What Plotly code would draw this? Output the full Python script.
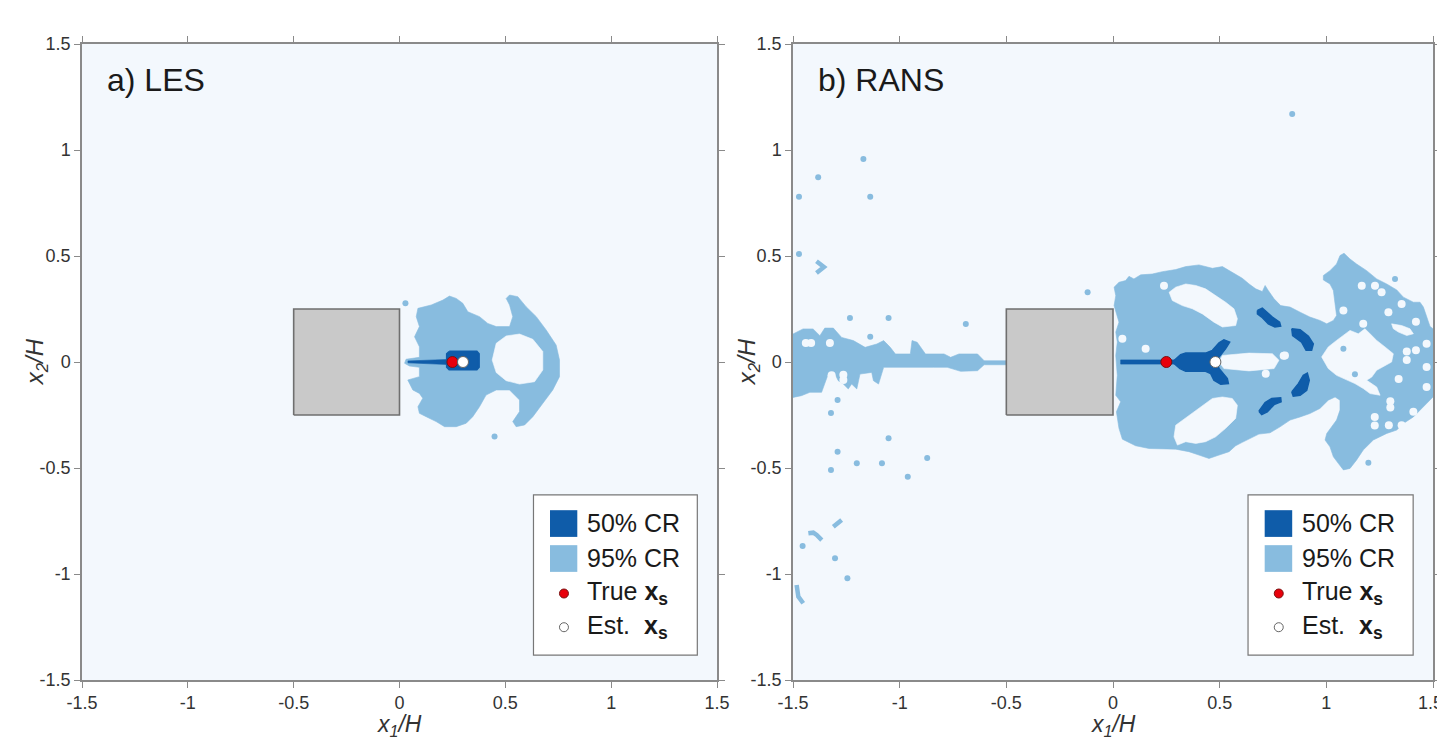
import plotly.graph_objects as go

FONT = "Liberation Sans, Arial, sans-serif"
BG = "#f3f8fd"
C95 = "#88bcdf"
C50 = "#0f5ca9"
AXC = "#8a8a8a"

# ---------------- data ----------------
tick_vals = [-1.5, -1, -0.5, 0, 0.5, 1, 1.5]
tick_text = ["-1.5", "-1", "-0.5", "0", "0.5", "1", "1.5"]

obstacle_x = [-0.5, 0.0, 0.0, -0.5]
obstacle_y = [-0.25, -0.25, 0.25, 0.25]

les_true = (0.25, 0.0)
les_est = (0.30, 0.0)
rans_true = (0.25, 0.0)
rans_est = (0.48, 0.0)

legend_labels = ["50% CR", "95% CR", "True <b>x<sub>s</sub></b>", "Est.  <b>x<sub>s</sub></b>"]

# LES credible regions
les_cr95_outer = [
    (0.087, 0.253), (0.150, 0.269), (0.205, 0.292), (0.236, 0.311), (0.268, 0.300), (0.299, 0.277),
    (0.323, 0.237), (0.378, 0.214), (0.417, 0.182), (0.457, 0.167), (0.520, 0.167), (0.535, 0.214),
    (0.520, 0.269), (0.504, 0.300), (0.520, 0.316), (0.559, 0.308), (0.598, 0.261), (0.646, 0.214),
    (0.693, 0.151), (0.740, 0.080), (0.756, 0.009), (0.756, -0.069), (0.724, -0.132), (0.677, -0.195),
    (0.630, -0.258), (0.591, -0.297), (0.551, -0.305), (0.535, -0.281), (0.567, -0.234), (0.567, -0.179),
    (0.520, -0.132), (0.457, -0.132), (0.409, -0.156), (0.378, -0.211), (0.346, -0.258), (0.315, -0.289),
    (0.268, -0.305), (0.213, -0.305), (0.173, -0.281), (0.126, -0.258), (0.094, -0.242), (0.087, -0.211),
    (0.110, -0.171), (0.094, -0.148), (0.063, -0.132), (0.039, -0.085), (0.094, -0.069), (0.094, -0.025),
    (0.047, -0.019), (0.024, -0.006), (0.031, 0.013), (0.094, 0.022), (0.094, 0.072), (0.071, 0.119),
    (0.094, 0.167), (0.079, 0.214)]
les_cr95_hole = [
    (0.457, 0.088), (0.504, 0.123), (0.567, 0.132), (0.630, 0.107), (0.677, 0.049), (0.677, -0.038),
    (0.638, -0.093), (0.567, -0.104), (0.504, -0.088), (0.457, -0.050), (0.438, 0.009)]
les_cr95_dots = [(0.028, 0.277), (0.449, -0.352)]
les_cr50_core = [
    (0.235, 0.049), (0.365, 0.049), (0.375, 0.038), (0.375, -0.024), (0.365, -0.035), (0.235, -0.035),
    (0.224, -0.024), (0.224, 0.038)]
les_cr50_tail = [(0.040, 0.005), (0.230, 0.012), (0.230, -0.012), (0.040, -0.004)]

# RANS credible regions
rans_cr95_band = [
    (-1.500, 0.132), (-1.453, 0.156), (-1.406, 0.156), (-1.374, 0.124), (-1.351, 0.160), (-1.311, 0.160),
    (-1.272, 0.116), (-1.217, 0.101), (-1.162, 0.069), (-1.107, 0.085), (-1.075, 0.101), (-1.044, 0.069),
    (-1.020, 0.038), (-0.950, 0.038), (-0.942, 0.101), (-0.918, 0.093), (-0.879, 0.038), (-0.792, 0.038),
    (-0.761, 0.022), (-0.722, 0.038), (-0.635, 0.038), (-0.604, 0.006), (-0.500, 0.006),
    (-0.500, -0.013), (-0.604, -0.013), (-0.635, -0.041), (-0.714, -0.044), (-0.777, -0.025),
    (-0.840, -0.025), (-1.075, -0.025), (-1.099, -0.104), (-1.123, -0.088), (-1.131, -0.049),
    (-1.186, -0.057), (-1.201, -0.127), (-1.225, -0.104), (-1.241, -0.127), (-1.264, -0.104),
    (-1.288, -0.088), (-1.303, -0.057), (-1.335, -0.057), (-1.366, -0.143), (-1.421, -0.143),
    (-1.461, -0.159), (-1.500, -0.167)]
rans_cr95_main = [
    (0.005, 0.353), (0.028, 0.376), (0.059, 0.384), (0.075, 0.404), (0.098, 0.392), (0.130, 0.411),
    (0.184, 0.415), (0.231, 0.426), (0.294, 0.436), (0.341, 0.450), (0.403, 0.458), (0.466, 0.442),
    (0.513, 0.450), (0.559, 0.423), (0.606, 0.395), (0.638, 0.368), (0.669, 0.345), (0.700, 0.332),
    (0.713, 0.361), (0.728, 0.337), (0.755, 0.298), (0.786, 0.266), (0.830, 0.259), (0.877, 0.235),
    (0.923, 0.212), (0.970, 0.196), (1.002, 0.180), (1.033, 0.196), (1.048, 0.219), (1.041, 0.274),
    (1.033, 0.337), (1.017, 0.368), (0.986, 0.387), (0.986, 0.408), (1.017, 0.431), (1.048, 0.462),
    (1.064, 0.502), (1.083, 0.513), (1.111, 0.486), (1.142, 0.462), (1.189, 0.431), (1.236, 0.392),
    (1.283, 0.368), (1.330, 0.340), (1.361, 0.306), (1.408, 0.282), (1.439, 0.282), (1.455, 0.259),
    (1.470, 0.219), (1.486, 0.168), (1.500, 0.157), (1.500, -0.165), (1.470, -0.196), (1.439, -0.227),
    (1.408, -0.259), (1.361, -0.290), (1.330, -0.321), (1.283, -0.337), (1.220, -0.368), (1.173, -0.415),
    (1.142, -0.462), (1.111, -0.502), (1.080, -0.509), (1.056, -0.478), (1.033, -0.447), (1.017, -0.400),
    (0.994, -0.368), (1.002, -0.337), (1.025, -0.306), (1.048, -0.274), (1.064, -0.227), (1.064, -0.180),
    (1.041, -0.165), (1.009, -0.180), (0.970, -0.219), (0.923, -0.243), (0.877, -0.259), (0.830, -0.274),
    (0.783, -0.306), (0.736, -0.334), (0.684, -0.340), (0.653, -0.357), (0.606, -0.379), (0.575, -0.395),
    (0.544, -0.423), (0.497, -0.439), (0.450, -0.455), (0.403, -0.439), (0.356, -0.423), (0.294, -0.411),
    (0.231, -0.411), (0.169, -0.408), (0.106, -0.395), (0.044, -0.364), (0.028, -0.313), (0.016, -0.235),
    (0.036, -0.188), (0.013, -0.157), (0.020, -0.063), (0.013, 0.031), (0.020, 0.094), (0.013, 0.141),
    (0.028, 0.188), (0.005, 0.266), (0.013, 0.313)]
rans_hole_upper = [
    (0.263, 0.329), (0.294, 0.353), (0.341, 0.368), (0.388, 0.361), (0.434, 0.345), (0.481, 0.313),
    (0.528, 0.282), (0.567, 0.251), (0.583, 0.204), (0.575, 0.172), (0.513, 0.165), (0.473, 0.188),
    (0.419, 0.227), (0.372, 0.251), (0.325, 0.266), (0.278, 0.290)]
rans_hole_lower = [
    (0.294, -0.298), (0.356, -0.251), (0.419, -0.204), (0.466, -0.172), (0.513, -0.165), (0.559, -0.172),
    (0.583, -0.204), (0.575, -0.266), (0.528, -0.313), (0.481, -0.353), (0.434, -0.376), (0.388, -0.384),
    (0.341, -0.376), (0.302, -0.392), (0.286, -0.353)]
rans_hole_mid = [
    (0.513, 0.031), (0.638, 0.042), (0.747, 0.039), (0.778, 0.008), (0.755, -0.031), (0.638, -0.042),
    (0.520, -0.031), (0.497, 0.0)]
rans_hole_center = [
    (0.978, 0.024), (1.009, 0.071), (1.048, 0.102), (1.080, 0.125), (1.111, 0.149), (1.150, 0.133),
    (1.181, 0.157), (1.205, 0.133), (1.236, 0.102), (1.275, 0.071), (1.314, 0.039), (1.306, 0.0),
    (1.267, -0.024), (1.236, -0.039), (1.213, -0.071), (1.189, -0.086), (1.236, -0.118), (1.252, -0.157),
    (1.205, -0.149), (1.173, -0.125), (1.134, -0.102), (1.095, -0.086), (1.048, -0.063), (1.009, -0.031)]
rans_hole_slot = [
    (1.306, 0.180), (1.353, 0.172), (1.392, 0.157), (1.408, 0.133), (1.377, 0.125), (1.338, 0.141),
    (1.314, 0.157)]
rans_small_holes = [
    (-1.440, 0.090), (-1.415, 0.090), (-1.327, 0.090), (-1.264, -0.060), (-1.264, -0.085), (-1.319, -0.062),
    (0.239, 0.360), (0.153, 0.063), (0.044, 0.110), (0.800, 0.030), (0.716, -0.055), (0.806, 0.031),
    (1.166, 0.360), (1.228, 0.360), (1.259, 0.329), (1.353, 0.274), (1.291, 0.235), (1.080, 0.243),
    (1.173, 0.180), (1.420, 0.190), (1.339, -0.080), (1.408, -0.235), (1.293, -0.298), (1.353, -0.298),
    (1.377, 0.010), (1.377, 0.050), (1.420, 0.055), (1.470, 0.086), (1.470, -0.024), (1.470, -0.118),
    (1.300, -0.185), (1.300, -0.215), (1.227, -0.260), (1.227, -0.300)]
rans_cr95_dots = [
    (-1.170, 0.958), (-1.382, 0.871), (-1.472, 0.780), (-1.138, 0.780), (-1.472, 0.509), (-1.233, 0.208),
    (-1.052, 0.208), (-0.690, 0.179), (-1.138, 0.119), (-0.119, 0.329), (-1.291, -0.179), (-1.322, -0.241),
    (-1.052, -0.360), (-1.291, -0.423), (-1.322, -0.509), (-1.201, -0.478), (-1.083, -0.478),
    (-0.871, -0.453), (-0.962, -0.541), (-1.455, -0.868), (-1.303, -0.926), (-1.245, -1.020),
    (0.840, 1.170), (1.322, 0.392), (1.134, -0.058), (1.080, 0.063), (1.197, -0.475)]
rans_cr95_streaks = [
    [(-1.390, 0.475), (-1.355, 0.448), (-1.390, 0.420)],
    [(-1.311, -0.777), (-1.272, -0.745)],
    [(-1.428, -0.808), (-1.405, -0.805), (-1.389, -0.816), (-1.365, -0.840)],
    [(-1.483, -1.052), (-1.475, -1.107), (-1.452, -1.138)]]
rans_cr50_tail = [(0.036, 0.010), (0.300, 0.010), (0.300, -0.010), (0.036, -0.010)]
rans_cr50_core = [
    (0.278, 0.0), (0.317, 0.034), (0.341, 0.042), (0.434, 0.042), (0.466, 0.055), (0.497, 0.091),
    (0.520, 0.105), (0.547, 0.094), (0.528, 0.063), (0.497, 0.024), (0.489, 0.0), (0.497, -0.031),
    (0.536, -0.078), (0.541, -0.102), (0.505, -0.105), (0.473, -0.086), (0.458, -0.055), (0.434, -0.044),
    (0.341, -0.044), (0.314, -0.031)]
rans_cr50_upper = [
    (0.677, 0.243), (0.700, 0.254), (0.747, 0.212), (0.781, 0.188), (0.786, 0.169), (0.759, 0.165),
    (0.728, 0.180), (0.697, 0.212), (0.677, 0.227)]
rans_cr50_lower = [
    (0.684, -0.232), (0.713, -0.191), (0.744, -0.172), (0.786, -0.169), (0.788, -0.188), (0.755, -0.201),
    (0.723, -0.235), (0.697, -0.248)]
rans_cr50_arc_up = [
    (0.838, 0.157), (0.877, 0.152), (0.916, 0.121), (0.939, 0.086), (0.931, 0.055), (0.905, 0.055),
    (0.884, 0.094), (0.842, 0.125)]
rans_cr50_arc_dn = [
    (0.838, -0.141), (0.869, -0.102), (0.892, -0.063), (0.911, -0.052), (0.920, -0.086), (0.908, -0.133),
    (0.877, -0.157), (0.845, -0.161)]

# ---------------- figure ----------------
fig = go.Figure()


def poly(pts, color, xa, ya, lw=0.6):
    xs = [p[0] for p in pts] + [pts[0][0]]
    ys = [p[1] for p in pts] + [pts[0][1]]
    fig.add_trace(go.Scatter(x=xs, y=ys, mode="lines", fill="toself", fillcolor=color,
                             line=dict(width=lw, color=color), hoverinfo="skip",
                             showlegend=False, xaxis=xa, yaxis=ya))


def dots(pts, color, size, xa, ya):
    fig.add_trace(go.Scatter(x=[p[0] for p in pts], y=[p[1] for p in pts], mode="markers",
                             marker=dict(size=size, color=color, line=dict(width=0)),
                             hoverinfo="skip", showlegend=False, xaxis=xa, yaxis=ya))


def streak(pts, color, xa, ya):
    fig.add_trace(go.Scatter(x=[p[0] for p in pts], y=[p[1] for p in pts], mode="lines",
                             line=dict(width=4.5, color=color), hoverinfo="skip",
                             showlegend=False, xaxis=xa, yaxis=ya))


def obstacle(xa, ya):
    fig.add_trace(go.Scatter(x=obstacle_x + [obstacle_x[0]], y=obstacle_y + [obstacle_y[0]],
                             mode="lines", fill="toself", fillcolor="#c9c9c9",
                             line=dict(width=1.6, color="#6f6f6f"), hoverinfo="skip",
                             showlegend=False, xaxis=xa, yaxis=ya))


def sources(true_pt, est_pt, xa, ya):
    fig.add_trace(go.Scatter(x=[true_pt[0]], y=[true_pt[1]], mode="markers",
                             marker=dict(size=11, color="#e8000b", line=dict(width=1, color="#7a1010")),
                             hoverinfo="skip", showlegend=False, xaxis=xa, yaxis=ya))
    fig.add_trace(go.Scatter(x=[est_pt[0]], y=[est_pt[1]], mode="markers",
                             marker=dict(size=11, color="#ffffff", line=dict(width=1, color="#666666")),
                             hoverinfo="skip", showlegend=False, xaxis=xa, yaxis=ya))


# LES panel
poly(les_cr95_outer, C95, "x", "y")
poly(les_cr95_hole, BG, "x", "y")
dots(les_cr95_dots, C95, 6, "x", "y")
poly(les_cr50_tail, C50, "x", "y")
poly(les_cr50_core, C50, "x", "y", lw=2)
obstacle("x", "y")
sources(les_true, les_est, "x", "y")

# RANS panel
poly(rans_cr95_band, C95, "x2", "y2")
poly(rans_cr95_main, C95, "x2", "y2")
for h in [rans_hole_upper, rans_hole_lower, rans_hole_mid, rans_hole_center, rans_hole_slot]:
    poly(h, BG, "x2", "y2")
dots(rans_small_holes, BG, 8, "x2", "y2")
dots(rans_cr95_dots, C95, 6, "x2", "y2")
for s in rans_cr95_streaks:
    streak(s, C95, "x2", "y2")
poly(rans_cr50_tail, C50, "x2", "y2")
for d in [rans_cr50_core, rans_cr50_upper, rans_cr50_lower, rans_cr50_arc_up, rans_cr50_arc_dn]:
    poly(d, C50, "x2", "y2", lw=1.5)
obstacle("x2", "y2")
sources(rans_true, rans_est, "x2", "y2")

axis_common = dict(range=[-1.5, 1.5], tickvals=tick_vals, ticktext=tick_text, ticks="outside",
                   ticklen=6, tickwidth=1.3, tickcolor=AXC, showline=True, linecolor=AXC,
                   linewidth=1.5, mirror="ticks", showgrid=False, zeroline=False,
                   tickfont=dict(size=18, color="#333333", family=FONT), automargin=False,
                   fixedrange=True)

# the page body adds an 8 px offset; figure sized to fit the window
OFF = 8
W, H = 1445 - OFF, 741 - OFF


def xdom(a, b):
    return [(a - OFF) / W, (b - OFF) / W]


ydom = [(H - (680 - OFF)) / H, (H - (44 - OFF)) / H]

fig.update_layout(
    width=W, height=H,
    margin=dict(l=0, r=0, t=0, b=0),
    paper_bgcolor="white", plot_bgcolor=BG,
    font=dict(family=FONT, color="#222222"),
    showlegend=False,
    xaxis=dict(axis_common, domain=xdom(82, 717), anchor="y"),
    yaxis=dict(axis_common, domain=ydom, anchor="x"),
    xaxis2=dict(axis_common, domain=xdom(793, 1433), anchor="y2"),
    yaxis2=dict(axis_common, domain=ydom, anchor="x2"),
)

shapes = []
annotations = []
for xa, ya, label, ytitle_x in [("x", "y", "a) LES", -0.072), ("x2", "y2", "b) RANS", -0.070)]:
    xd, yd = xa + " domain", ya + " domain"
    annotations.append(dict(text=label, xref=xd, yref=yd, x=0.036, y=0.943, xanchor="left",
                            yanchor="middle", showarrow=False, font=dict(size=32, color="#1a1a1a", family=FONT)))
    annotations.append(dict(text="<i>x</i><sub><i>1</i></sub><i>/H</i>", xref=xd, yref=yd, x=0.5, y=-0.071,
                            xanchor="center", yanchor="middle", showarrow=False,
                            font=dict(size=23, color="#333333", family=FONT)))
    annotations.append(dict(text="<i>x</i><sub><i>2</i></sub><i>/H</i>", xref=xd, yref=yd, x=ytitle_x, y=0.5,
                            xanchor="center", yanchor="middle", textangle=-90, showarrow=False,
                            font=dict(size=24, color="#333333", family=FONT)))
    # legend box
    shapes.append(dict(type="rect", xref=xd, yref=yd, x0=0.711, x1=0.969, y0=0.039, y1=0.291,
                       fillcolor="white", line=dict(color="#777777", width=1.2), layer="above"))
    shapes.append(dict(type="rect", xref=xd, yref=yd, x0=0.737, x1=0.780, y0=0.225, y1=0.267,
                       fillcolor=C50, line=dict(width=0), layer="above"))
    shapes.append(dict(type="rect", xref=xd, yref=yd, x0=0.737, x1=0.780, y0=0.170, y1=0.212,
                       fillcolor=C95, line=dict(width=0), layer="above"))
    shapes.append(dict(type="circle", xref=xd, yref=yd, xsizemode="pixel", ysizemode="pixel",
                       xanchor=0.759, yanchor=0.136, x0=-4.5, x1=4.5, y0=-4.5, y1=4.5,
                       fillcolor="#e8000b", line=dict(color="#7a1010", width=1), layer="above"))
    shapes.append(dict(type="circle", xref=xd, yref=yd, xsizemode="pixel", ysizemode="pixel",
                       xanchor=0.759, yanchor=0.083, x0=-4.5, x1=4.5, y0=-4.5, y1=4.5,
                       fillcolor="white", line=dict(color="#666666", width=1), layer="above"))
    for txt, yy in zip(legend_labels, [0.247, 0.192, 0.137, 0.083]):
        annotations.append(dict(text=txt, xref=xd, yref=yd, x=0.792, y=yy, xanchor="left",
                                yanchor="middle", showarrow=False,
                                font=dict(size=25, color="#1a1a1a", family=FONT)))

# last x tick label of the right panel sits at the page edge (plotly drops it), so place it explicitly
annotations.append(dict(text=tick_text[-1], xref="x2 domain", yref="y2 domain", x=1.018, y=-0.018,
                        xanchor="right", yanchor="top", showarrow=False,
                        font=dict(size=18, color="#333333", family=FONT)))

fig.update_layout(shapes=shapes, annotations=annotations)
fig.write_html("out.html")
